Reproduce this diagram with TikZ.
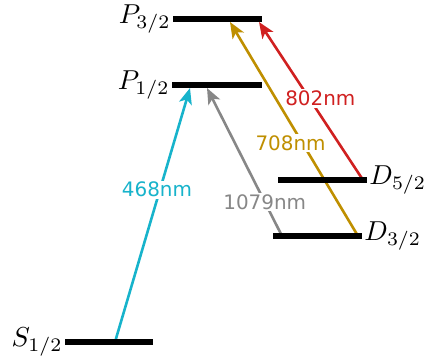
\documentclass[tikz,border=0pt]{standalone}
\usepackage{fontspec}
\newfontfamily\labfont{DejaVu Sans}
\usetikzlibrary{arrows.meta,calc}
\definecolor{ccyan}{HTML}{17B3CB}
\definecolor{cgray}{HTML}{878787}
\definecolor{cgold}{HTML}{BF8F00}
\definecolor{cred}{HTML}{D02020}
\newcommand{\lvltext}[1]{\scalebox{2.75}{$#1$}}
\begin{document}
\begin{tikzpicture}[x=1bp,y=-1bp,
  level/.style={fill=black,inner sep=0pt,minimum height=6bp,draw=none},
  lvllab/.style={inner sep=2bp},
  trans/.style={line width=2.6bp,-{Stealth[length=16bp,width=13bp,inset=4bp]}},
  wl/.style={font=\labfont\fontsize{20}{24}\selectfont,fill=white,inner sep=1.5bp,sloped=false}]
\useasboundingbox (0,0) rectangle (429,362);
% levels
\coordinate (s1) at (115,342);
\coordinate (p1a) at (190,88);
\coordinate (p1b) at (207,88);
\coordinate (d3a) at (282,236);
\coordinate (d3b) at (358,236);
\coordinate (d5a) at (363,180);
\coordinate (p3a) at (230,22);
\coordinate (p3b) at (259,22);
% transitions (behind levels)
\draw[trans,ccyan] (s1) -- node[wl,pos=0.6,xshift=-3bp,text=ccyan]{468nm} (p1a);
\draw[trans,cgray] (d3a) -- node[wl,pos=0.23,text=cgray]{1079nm} (p1b);
\draw[trans,cgold] (d3b) -- node[wl,pos=0.433,xshift=-12bp,text=cgold]{708nm} (p3a);
\draw[trans,cred] (d5a) -- node[wl,pos=0.516,xshift=11bp,text=cred]{802nm} (p3b);
% level bars
\node[level,minimum width=89bp] (P3) at (217.5,19) {};
\node[level,minimum width=90bp] (P1) at (217,85) {};
\node[level,minimum width=89bp] (D5) at (322.5,180) {};
\node[level,minimum width=89bp] (D3) at (317.5,236) {};
\node[level,minimum width=88bp] (S1) at (109,342) {};
\node[lvllab,anchor=east] (P3l) at (P3.west) {\lvltext{P_{3/2}}};
\node[lvllab,anchor=east] (P1l) at (P1.west) {\lvltext{P_{1/2}}};
\node[lvllab,anchor=west] (D5l) at (D5.east) {\lvltext{D_{5/2}}};
\node[lvllab,anchor=west] (D3l) at (D3.east) {\lvltext{D_{3/2}}};
\node[lvllab,anchor=east] (S1l) at (S1.west) {\lvltext{S_{1/2}}};
\end{tikzpicture}
\end{document}
